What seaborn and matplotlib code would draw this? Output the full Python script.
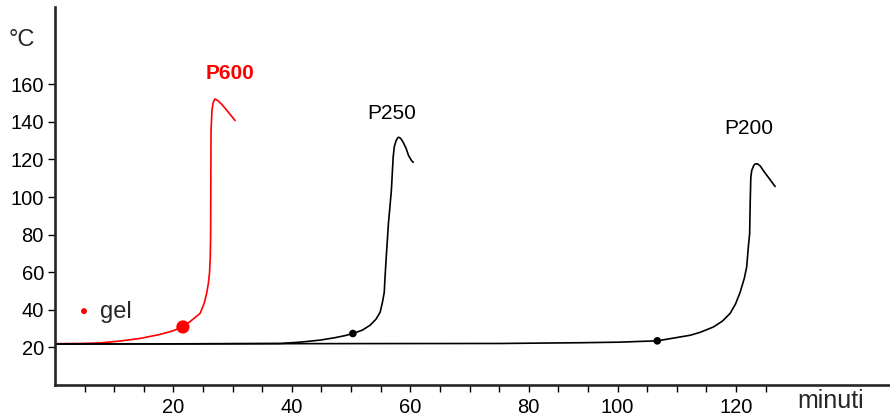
import numpy as np
import pandas as pd
import seaborn as sns
import matplotlib.pyplot as plt

# curve values (minuti, °C)
p600_x = [0, 4.2, 7.6, 11.0, 14.4, 17.7, 19.8, 21.6, 23.1, 24.5, 25.2, 25.6, 25.9, 26.1, 26.22, 26.28,
          26.3, 26.35, 26.5, 26.7, 27.0, 27.5, 28.2, 29.2, 30.4]
p600_y = [22.0, 22.1, 22.4, 23.4, 24.8, 26.9, 28.7, 30.9, 34.5, 38.1, 43.5, 48.7, 54.1, 60.0, 68.0, 80.0,
          98, 135, 146, 150.2, 152.2, 151.3, 149.2, 145.4, 140.7]

p250_x = [0, 20, 38, 41.4, 44.8, 47.3, 49.0, 50.3, 51.9, 53.2, 54.2, 54.9, 55.3, 55.6, 55.7, 55.9,
          56.3, 56.8, 57.1, 57.3, 57.6, 57.9, 58.1, 58.4, 58.8, 59.3, 59.7, 60.2, 60.5]
p250_y = [21.8, 21.9, 22.1, 22.8, 23.9, 25.2, 26.3, 27.4, 29.2, 31.8, 35.0, 38.7, 44.1, 49.4, 55.7, 66.3,
          85.8, 103.5, 121.2, 126.9, 130, 131.6, 131.8, 131.1, 129.1, 125.8, 122.1, 119.4, 118.5]

p200_x = [0, 40, 75.2, 91.6, 100.4, 103.8, 106.7, 109.7, 112.3, 114.0, 116.2, 117.7, 119.0, 119.9,
          120.7, 121.4, 121.8, 122.1, 122.3, 122.4, 122.5, 122.65, 123.0, 123.2, 123.6, 124.1,
          124.6, 125.6, 126.6]
p200_y = [21.8, 22.0, 22.1, 22.5, 22.8, 23.2, 23.5, 25.1, 26.5, 28.1, 30.9, 34.0, 38.1, 43.0,
          49.4, 56.8, 62.8, 74.3, 80.5, 98.2, 110.6, 114.1, 116.8, 117.6, 117.7, 116.5,
          114.1, 109.9, 105.6]

# gel points
gel_names = ["P600", "P250", "P200"]
gel_x = [21.6, 50.3, 106.7]
gel_y = [30.9, 27.4, 23.5]

x_labels = [20, 40, 60, 80, 100, 120]
y_labels = [20, 40, 60, 80, 100, 120, 140, 160]

df = pd.concat([
    pd.DataFrame({"minuti": p600_x, "temp": p600_y, "campione": "P600"}),
    pd.DataFrame({"minuti": p250_x, "temp": p250_y, "campione": "P250"}),
    pd.DataFrame({"minuti": p200_x, "temp": p200_y, "campione": "P200"}),
], ignore_index=True)
gel = pd.DataFrame({"minuti": gel_x, "temp": gel_y, "campione": gel_names})

colors = {"P600": "#ff0000", "P250": "black", "P200": "black"}

sns.set_style("ticks")
plt.rcParams['font.family'] = ['Liberation Sans', 'DejaVu Sans']

fig = plt.figure(figsize=(8.9, 4.17), dpi=100)
ax = fig.add_axes([0.0618, 0.0767, 0.9382, 0.906])

# the printed axis squeezes 80-100 into three tick steps
src = [-50, 0, 80, 100, 300]
dst = [-50, 0, 80, 95, 295]
ax.set_xscale('function', functions=(lambda m: np.interp(m, src, dst),
                                     lambda p: np.interp(p, dst, src)))

sns.lineplot(data=df, x="minuti", y="temp", hue="campione", palette=colors,
             estimator=None, sort=False, linewidth=1.2, legend=False, ax=ax)
sns.scatterplot(data=gel, x="minuti", y="temp", hue="campione", palette=colors,
                size="campione", sizes={"P600": 90, "P250": 30, "P200": 30},
                edgecolor="none", legend=False, ax=ax, zorder=5)

ax.set_xlim(0, 146)
ax.set_ylim(0, 201)
ax.set_xticks(x_labels)
ax.set_xticklabels([str(v) for v in x_labels])
major_pos = [20, 40, 60, 80, 95, 115]
minor_pos = [p for p in range(5, 121, 5) if p not in major_pos]
ax.set_xticks(np.interp(minor_pos, dst, src), minor=True)
ax.set_yticks(y_labels)
ax.set_xlabel("")
ax.set_ylabel("")

sns.despine(ax=ax)
for s in ["left", "bottom"]:
    ax.spines[s].set_linewidth(1.9)
ax.tick_params(axis="both", which="both", direction="out", width=1.0,
               length=5, color="black", labelsize=14.5, labelcolor="black")
ax.tick_params(axis="x", which="both", pad=4)
ax.tick_params(axis="y", pad=3)

ax.text(29.6, 165.6, "P600", color="#ff0000", fontsize=15, fontweight="bold",
        ha="center", va="center")
ax.text(56.8, 144.4, "P250", color="black", fontsize=15, ha="center", va="center")
ax.text(122.1, 136.4, "P200", color="black", fontsize=15, ha="center", va="center")

# small legend for the gel point
ax.scatter([4.9], [39.3], s=18, color="#ff0000", edgecolor="none")
ax.text(7.6, 38.8, "gel", fontsize=17, ha="left", va="center")

fig.text(0.0247, 0.904, "°C", fontsize=17, ha="center", va="center")
fig.text(0.933, 0.038, "minuti", fontsize=18, ha="center", va="center")

fig.savefig("out.png", dpi=100)
